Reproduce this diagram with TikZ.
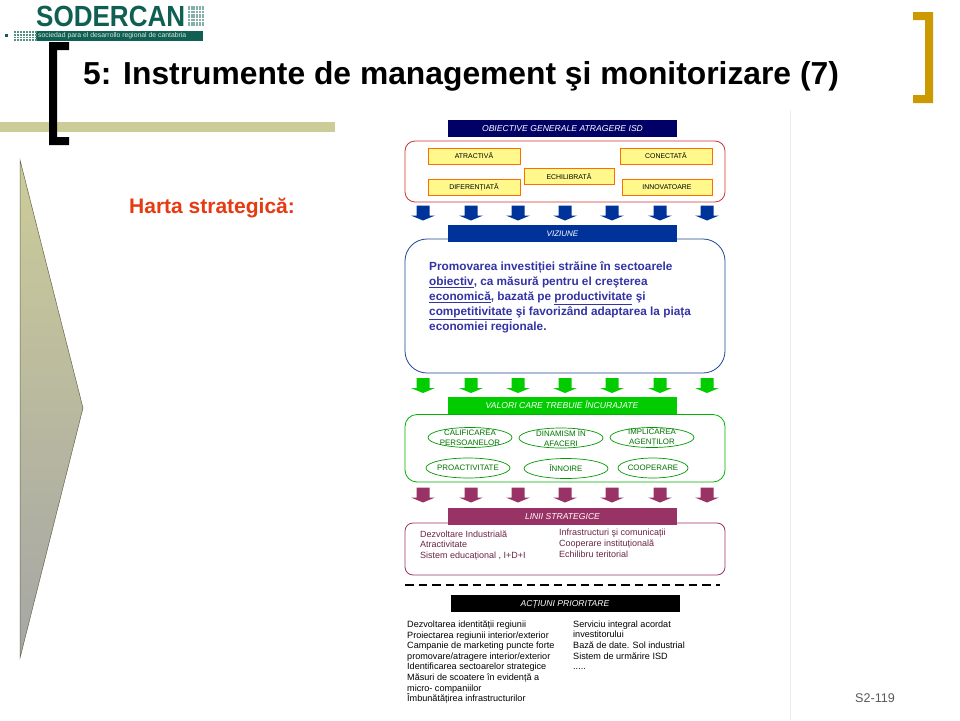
\documentclass[tikz,border=0pt]{standalone}
\usepackage{fontspec}
\setmainfont{Liberation Sans}
\usetikzlibrary{shapes.geometric, positioning}
\definecolor{navy}{HTML}{000066}
\definecolor{royal}{HTML}{003399}
\definecolor{leaf}{HTML}{00CC00}
\definecolor{plum}{HTML}{993366}
\definecolor{olive}{HTML}{CCCC99}
\definecolor{gold}{HTML}{CC9900}
\definecolor{teal}{HTML}{0F5F52}
\definecolor{ink}{HTML}{3333A6}
\definecolor{flame}{HTML}{E63A12}
\tikzset{
    banner/.style={rectangle, minimum width=229pt, minimum height=17pt, inner sep=0pt, text height=6.2pt, text depth=0pt, text=white, font=\fontsize{8.6}{10}\selectfont\itshape},
    panel/.style={draw, rounded corners=#1, fill=white, line width=0.8pt},
    goal/.style={rectangle, draw=orange!85!red, fill=yellow!45, line width=0.8pt, minimum width=92pt, minimum height=16pt, inner sep=0pt, font=\fontsize{6.9}{8}\selectfont},
    value/.style={ellipse, draw=green!60!black, fill=white, line width=0.7pt, minimum width=84pt, minimum height=20pt, inner sep=-4pt, align=center, text=green!45!black, font=\fontsize{7.9}{9.6}\selectfont},
    downarrow/.pic={\path [pic actions] (-6.5,-7.5) -- (6.5,-7.5) -- (6.5,2.5) -- (12,2.5) -- (0,7.5) -- (-12,2.5) -- (-6.5,2.5) -- cycle;},
    note/.style={anchor=north west, inner sep=0pt, align=left},
}
\begin{document}
\begin{tikzpicture}[x=1pt, y=-1pt]
    \useasboundingbox (0,0) rectangle (960,720);
    \fill [white] (0,0) rectangle (960,720);
    % Slide frame
    \draw [gray!15, line width=0.6pt] (790,110) -- (790,720);
    \fill [olive] (0,122) rectangle (335,132);
    \fill [black] (49,42) -- (69,42) -- (69,50) -- (57,50) -- (57,137) -- (69,137) -- (69,145) -- (49,145) -- cycle;
    \fill [gold] (913,12) -- (933,12) -- (933,103) -- (913,103) -- (913,95) -- (925,95) -- (925,20) -- (913,20) -- cycle;
    \draw [top color=olive, bottom color=gray!70, draw=olive!50!black, line width=0.5pt] (20,160) -- (83,408) -- (20,658) -- cycle;
    % Logo
    \node [anchor=base west, inner sep=0pt, text=teal, font=\fontsize{28}{30}\selectfont\bfseries] (logo) at (36,26) {\resizebox{149pt}{!}{\scalebox{1}[1.12]{SODERCAN}}};
    \fill [teal] (36,31) rectangle (203,41);
    \node [anchor=west, inner sep=0pt, text=white!85!teal, font=\fontsize{6.85}{7}\selectfont] (logoband) at (38,36) {sociedad para el desarrollo regional de cantabria};
    \foreach \i in {0,...,5}
        \foreach \j in {0,...,7}
            \fill [teal!50] (188+2.7*\i,5.5+2.7*\j) rectangle ++(2,2);
    \foreach \i in {0,...,7}
        \foreach \j in {0,...,3}
            \fill [teal!70] (14+3*\i,31+2.8*\j) rectangle ++(1.8,1.8);
    \fill [teal] (5,34) rectangle ++(2.5,2.5);
    % Titles
    \node [anchor=base west, inner sep=0pt, font=\fontsize{31.8}{36}\selectfont\bfseries] (title) at (83,84) {5: Instrumente de management şi monitorizare (7)};
    \node [anchor=base west, inner sep=0pt, text=flame, font=\fontsize{21}{24}\selectfont\bfseries] (mapname) at (129,213) {Harta strategică:};
    \node [anchor=base west, inner sep=0pt, text=black!65, font=\fontsize{12.6}{14}\selectfont] (pageno) at (855,702) {S2-119};
    % Objectives
    \draw [panel=10pt, draw=red!75!black!80] (405,141) rectangle (725,202);
    \node [banner, fill=navy] (bobj) at (562.5,128) {OBIECTIVE GENERALE ATRAGERE ISD};
    \node [goal] (atr) at (474,156) {ATRACTIVĂ};
    \node [goal] (con) at (666,156) {CONECTATĂ};
    \node [goal, minimum width=90pt] (ech) at (569,176.5) {ECHILIBRATĂ};
    \node [goal] (dif) at (474,187) {DIFERENȚIATĂ};
    \node [goal, minimum width=90pt] (inn) at (667,187) {INNOVATOARE};
    \foreach \x in {423,471,518,565,612,660,707}
        \pic [fill=royal] (ablue\x) at (\x,213) {downarrow};
    % Vision
    \draw [panel=22pt, draw=royal!75!gray] (405,239) rectangle (725,373);
    \node [banner, fill=royal, font=\fontsize{8}{10}\selectfont\itshape] (bviz) at (562.5,233.5) {VIZIUNE};
    \node [note, text=ink, font=\fontsize{11.8}{15}\selectfont\bfseries] (vision) at (429,261.5) {Promovarea investiției străine în sectoarele\\\underline{obiectiv}, ca măsură pentru el creşterea\\\underline{economică}, bazată pe \underline{productivitate} şi\\\underline{competitivitate} şi favorizând adaptarea la piața\\economiei regionale.};
    \foreach \x in {423,471,518,565,612,660,707}
        \pic [fill=leaf] (agreen\x) at (\x,385.5) {downarrow};
    % Values
    \draw [panel=12pt, draw=green!70!black] (405,414.5) rectangle (725,482);
    \node [banner, fill=leaf] (bval) at (562,405.5) {VALORI CARE TREBUIE ÎNCURAJATE};
    \node [value] (cal) at (470,437.5) {CALIFICAREA\\PERSOANELOR};
    \node [value] (din) at (561,438) {DINAMISM ÎN\\AFACERI};
    \node [value] (imp) at (652,437.5) {IMPLICAREA\\AGENȚILOR};
    \node [value] (pro) at (468,468) {PROACTIVITATE};
    \node [value] (ino) at (566,468.5) {ÎNNOIRE};
    \node [value, minimum width=70pt] (coo) at (653,468) {COOPERARE};
    \foreach \x in {423,471,518,565,612,660,707}
        \pic [fill=plum] (aplum\x) at (\x,495) {downarrow};
    % Strategic lines
    \draw [panel=8pt, draw=plum] (405,523) rectangle (725,575);
    \node [banner, fill=plum] (blin) at (562.5,516.5) {LINII STRATEGICE};
    \node [note, text=plum!70!black, font=\fontsize{9}{10.6}\selectfont] (linleft) at (420,530.5) {Dezvoltare Industrială\\Atractivitate\\Sistem educațional , I+D+I};
    \node [note, text=plum!70!black, font=\fontsize{9}{11}\selectfont] (linright) at (559,529) {Infrastructuri şi comunicații\\Cooperare instituțională\\Echilibru teritorial};
    % Divider
    \draw [line width=1.8pt, dash pattern=on 8.5pt off 5pt] (405,585) -- (720,585);
    % Priority actions
    \node [banner, fill=black] (bact) at (565,603.5) {ACȚIUNI PRIORITARE};
    \node [note, font=\fontsize{9.1}{10.6}\selectfont] (actleft) at (407,620.5) {Dezvoltarea identității regiunii\\Proiectarea regiunii interior/exterior\\Campanie de marketing puncte forte\\promovare/atragere interior/exterior\\Identificarea sectoarelor strategice\\Măsuri de scoatere în evidență a\\micro- companiilor\\Îmbunătățirea infrastructurilor};
    \node [note, font=\fontsize{9.1}{10.6}\selectfont] (actright) at (573,620.5) {Serviciu integral acordat\\investitorului\\Bază de date. Sol industrial\\Sistem de urmărire ISD\\.....};
\end{tikzpicture}
\end{document}
